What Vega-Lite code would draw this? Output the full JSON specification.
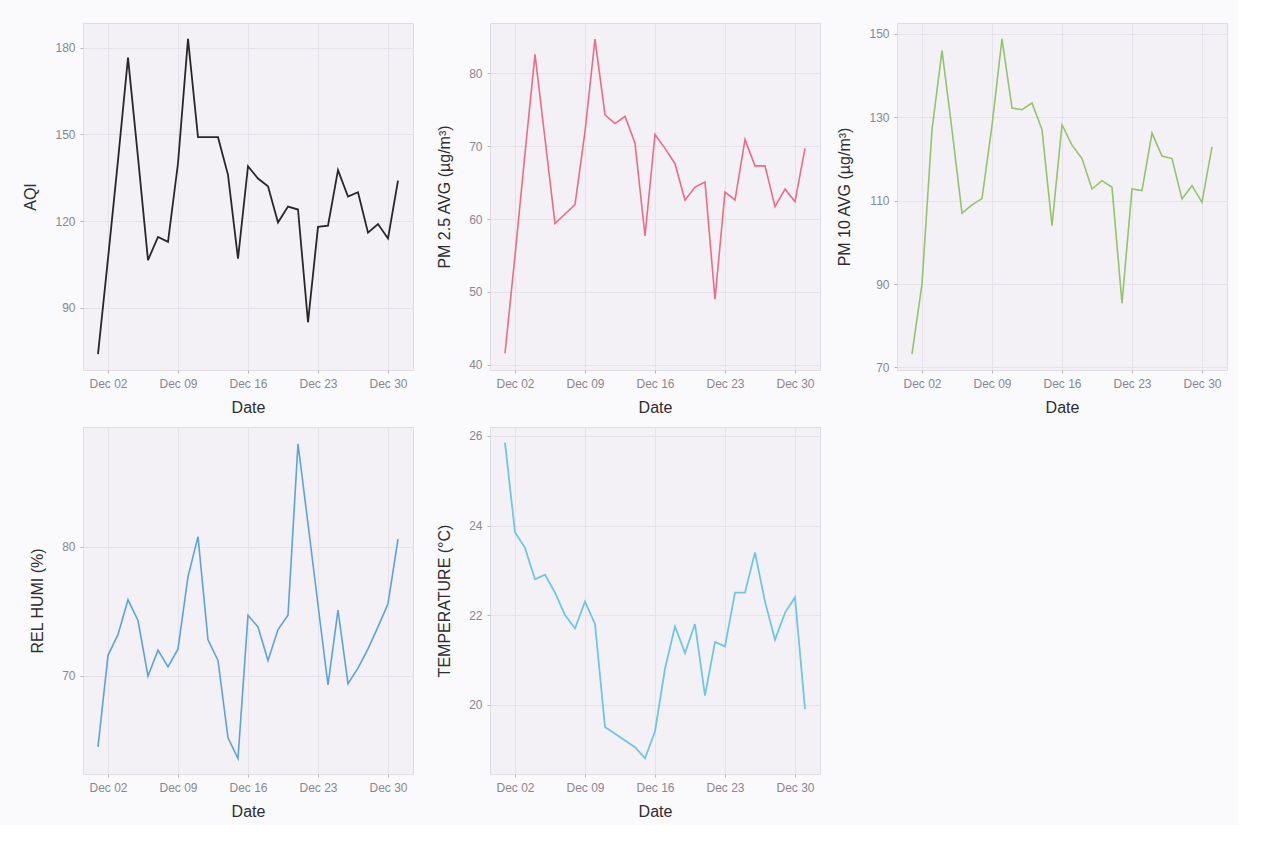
{
  "$schema": "https://vega.github.io/schema/vega-lite/v6.json",
  "background": "#fafafc",
  "padding": {"left": 22, "top": 22, "right": 10, "bottom": 5},
  "datasets": {
    "air": [
      {"date": "2023-12-01T00:00", "AQI": 74, "PM25": 41.6, "PM10": 73.2, "HUMI": 64.5, "TEMP": 25.85},
      {"date": "2023-12-02T00:00", "AQI": 107, "PM25": 55, "PM10": 90, "HUMI": 71.6, "TEMP": 23.85},
      {"date": "2023-12-03T00:00", "AQI": 141, "PM25": 69, "PM10": 127, "HUMI": 73.2, "TEMP": 23.5},
      {"date": "2023-12-04T00:00", "AQI": 176.5, "PM25": 82.6, "PM10": 146, "HUMI": 75.9, "TEMP": 22.8},
      {"date": "2023-12-05T00:00", "AQI": 142, "PM25": 71, "PM10": 127, "HUMI": 74.3, "TEMP": 22.9},
      {"date": "2023-12-06T00:00", "AQI": 106.5, "PM25": 59.4, "PM10": 107, "HUMI": 70.0, "TEMP": 22.5},
      {"date": "2023-12-07T00:00", "AQI": 114.5, "PM25": 60.7, "PM10": 109, "HUMI": 72.0, "TEMP": 22.0},
      {"date": "2023-12-08T00:00", "AQI": 112.8, "PM25": 62, "PM10": 110.5, "HUMI": 70.7, "TEMP": 21.7},
      {"date": "2023-12-09T00:00", "AQI": 140, "PM25": 72, "PM10": 128, "HUMI": 72.1, "TEMP": 22.3},
      {"date": "2023-12-10T00:00", "AQI": 183, "PM25": 84.7, "PM10": 148.8, "HUMI": 77.7, "TEMP": 21.8},
      {"date": "2023-12-11T00:00", "AQI": 149, "PM25": 74.3, "PM10": 132.2, "HUMI": 80.8, "TEMP": 19.5},
      {"date": "2023-12-12T00:00", "AQI": 149, "PM25": 73.1, "PM10": 131.8, "HUMI": 72.8, "TEMP": 19.35},
      {"date": "2023-12-13T00:00", "AQI": 149, "PM25": 74.1, "PM10": 133.4, "HUMI": 71.2, "TEMP": 19.2},
      {"date": "2023-12-14T00:00", "AQI": 136, "PM25": 70.4, "PM10": 127, "HUMI": 65.2, "TEMP": 19.05},
      {"date": "2023-12-15T00:00", "AQI": 107, "PM25": 57.7, "PM10": 104, "HUMI": 63.6, "TEMP": 18.8},
      {"date": "2023-12-16T00:00", "AQI": 139, "PM25": 71.6, "PM10": 128.2, "HUMI": 74.7, "TEMP": 19.4},
      {"date": "2023-12-17T00:00", "AQI": 134.7, "PM25": 69.7, "PM10": 123.3, "HUMI": 73.8, "TEMP": 20.8},
      {"date": "2023-12-18T00:00", "AQI": 132, "PM25": 67.6, "PM10": 120.1, "HUMI": 71.2, "TEMP": 21.75},
      {"date": "2023-12-19T00:00", "AQI": 119.5, "PM25": 62.6, "PM10": 112.8, "HUMI": 73.6, "TEMP": 21.15},
      {"date": "2023-12-20T00:00", "AQI": 125, "PM25": 64.4, "PM10": 114.8, "HUMI": 74.7, "TEMP": 21.8},
      {"date": "2023-12-21T00:00", "AQI": 124, "PM25": 65.1, "PM10": 113.2, "HUMI": 88.0, "TEMP": 20.2},
      {"date": "2023-12-22T00:00", "AQI": 85, "PM25": 49, "PM10": 85.4, "HUMI": 81.8, "TEMP": 21.4},
      {"date": "2023-12-23T00:00", "AQI": 118, "PM25": 63.7, "PM10": 112.8, "HUMI": 75.5, "TEMP": 21.3},
      {"date": "2023-12-24T00:00", "AQI": 118.4, "PM25": 62.6, "PM10": 112.4, "HUMI": 69.3, "TEMP": 22.5},
      {"date": "2023-12-25T00:00", "AQI": 137.6, "PM25": 70.9, "PM10": 126.2, "HUMI": 75.1, "TEMP": 22.5},
      {"date": "2023-12-26T00:00", "AQI": 128.5, "PM25": 67.3, "PM10": 120.7, "HUMI": 69.4, "TEMP": 23.4},
      {"date": "2023-12-27T00:00", "AQI": 130, "PM25": 67.3, "PM10": 120.1, "HUMI": 70.6, "TEMP": 22.3},
      {"date": "2023-12-28T00:00", "AQI": 116, "PM25": 61.7, "PM10": 110.4, "HUMI": 72.1, "TEMP": 21.45},
      {"date": "2023-12-29T00:00", "AQI": 119, "PM25": 64.1, "PM10": 113.6, "HUMI": 73.8, "TEMP": 22.05},
      {"date": "2023-12-30T00:00", "AQI": 114, "PM25": 62.4, "PM10": 109.6, "HUMI": 75.6, "TEMP": 22.4},
      {"date": "2023-12-31T00:00", "AQI": 134, "PM25": 69.7, "PM10": 122.9, "HUMI": 80.6, "TEMP": 19.9}
    ]
  },
  "data": {"name": "air"},
  "columns": 3,
  "bounds": "flush",
  "spacing": {"row": 57, "column": 77},
  "concat": [
    {
      "width": 330, "height": 347,
      "mark": {"type": "line", "color": "#2a2628", "strokeWidth": 1.8},
      "encoding": {
        "x": {"field": "date", "type": "temporal", "title": "Date",
              "scale": {"domain": [{"year": 2023, "month": 11, "date": 29, "hours": 12}, {"year": 2024, "month": 1, "date": 1, "hours": 12}]},
              "axis": {"format": "%b %d", "values": [{"year": 2023, "month": 12, "date": 2}, {"year": 2023, "month": 12, "date": 9}, {"year": 2023, "month": 12, "date": 16}, {"year": 2023, "month": 12, "date": 23}, {"year": 2023, "month": 12, "date": 30}]}},
        "y": {"field": "AQI", "type": "quantitative", "title": "AQI",
              "scale": {"domain": [68.5, 188.5], "nice": false, "zero": false},
              "axis": {"values": [90, 120, 150, 180]}}
      }
    },
    {
      "width": 330, "height": 347,
      "mark": {"type": "line", "color": "#ee6b86", "strokeWidth": 1.6},
      "encoding": {
        "x": {"field": "date", "type": "temporal", "title": "Date",
              "scale": {"domain": [{"year": 2023, "month": 11, "date": 29, "hours": 12}, {"year": 2024, "month": 1, "date": 1, "hours": 12}]},
              "axis": {"format": "%b %d", "values": [{"year": 2023, "month": 12, "date": 2}, {"year": 2023, "month": 12, "date": 9}, {"year": 2023, "month": 12, "date": 16}, {"year": 2023, "month": 12, "date": 23}, {"year": 2023, "month": 12, "date": 30}]}},
        "y": {"field": "PM25", "type": "quantitative", "title": "PM 2.5 AVG (µg/m³)",
              "scale": {"domain": [39.3, 86.9], "nice": false, "zero": false},
              "axis": {"values": [40, 50, 60, 70, 80]}}
      }
    },
    {
      "width": 330, "height": 347,
      "mark": {"type": "line", "color": "#93c46a", "strokeWidth": 1.6},
      "encoding": {
        "x": {"field": "date", "type": "temporal", "title": "Date",
              "scale": {"domain": [{"year": 2023, "month": 11, "date": 29, "hours": 12}, {"year": 2024, "month": 1, "date": 1, "hours": 12}]},
              "axis": {"format": "%b %d", "values": [{"year": 2023, "month": 12, "date": 2}, {"year": 2023, "month": 12, "date": 9}, {"year": 2023, "month": 12, "date": 16}, {"year": 2023, "month": 12, "date": 23}, {"year": 2023, "month": 12, "date": 30}]}},
        "y": {"field": "PM10", "type": "quantitative", "title": "PM 10 AVG (µg/m³)",
              "scale": {"domain": [69.4, 152.6], "nice": false, "zero": false},
              "axis": {"values": [70, 90, 110, 130, 150]}}
      }
    },
    {
      "width": 330, "height": 347,
      "mark": {"type": "line", "color": "#5aa3de", "strokeWidth": 1.6},
      "encoding": {
        "x": {"field": "date", "type": "temporal", "title": "Date",
              "scale": {"domain": [{"year": 2023, "month": 11, "date": 29, "hours": 12}, {"year": 2024, "month": 1, "date": 1, "hours": 12}]},
              "axis": {"format": "%b %d", "values": [{"year": 2023, "month": 12, "date": 2}, {"year": 2023, "month": 12, "date": 9}, {"year": 2023, "month": 12, "date": 16}, {"year": 2023, "month": 12, "date": 23}, {"year": 2023, "month": 12, "date": 30}]}},
        "y": {"field": "HUMI", "type": "quantitative", "title": "REL HUMI (%)",
              "scale": {"domain": [62.4, 89.3], "nice": false, "zero": false},
              "axis": {"values": [70, 80]}}
      }
    },
    {
      "width": 330, "height": 347,
      "mark": {"type": "line", "color": "#6ec6e4", "strokeWidth": 1.8},
      "encoding": {
        "x": {"field": "date", "type": "temporal", "title": "Date",
              "scale": {"domain": [{"year": 2023, "month": 11, "date": 29, "hours": 12}, {"year": 2024, "month": 1, "date": 1, "hours": 12}]},
              "axis": {"format": "%b %d", "values": [{"year": 2023, "month": 12, "date": 2}, {"year": 2023, "month": 12, "date": 9}, {"year": 2023, "month": 12, "date": 16}, {"year": 2023, "month": 12, "date": 23}, {"year": 2023, "month": 12, "date": 30}]}},
        "y": {"field": "TEMP", "type": "quantitative", "title": "TEMPERATURE (°C)",
              "scale": {"domain": [18.45, 26.2], "nice": false, "zero": false},
              "axis": {"values": [20, 22, 24, 26]}}
      }
    }
  ],
  "config": {
    "view": {"fill": "#f3f1f6", "stroke": "#e0dce6", "strokeWidth": 1},
    "axis": {
      "domain": false,
      "ticks": true,
      "tickColor": "#b8b4bc",
      "tickSize": 3,
      "grid": true,
      "gridColor": "#e6e2ea",
      "gridWidth": 1,
      "labelColor": "#8a8690",
      "labelFont": "Liberation Sans",
      "labelFontSize": 12,
      "labelPadding": 5,
      "titleFont": "Liberation Sans",
      "titleFontSize": 16,
      "titleFontWeight": "normal",
      "titleColor": "#2e2c30"
    },
    "axisX": {"titlePadding": 10},
    "axisY": {"titlePadding": 16}
  }
}
